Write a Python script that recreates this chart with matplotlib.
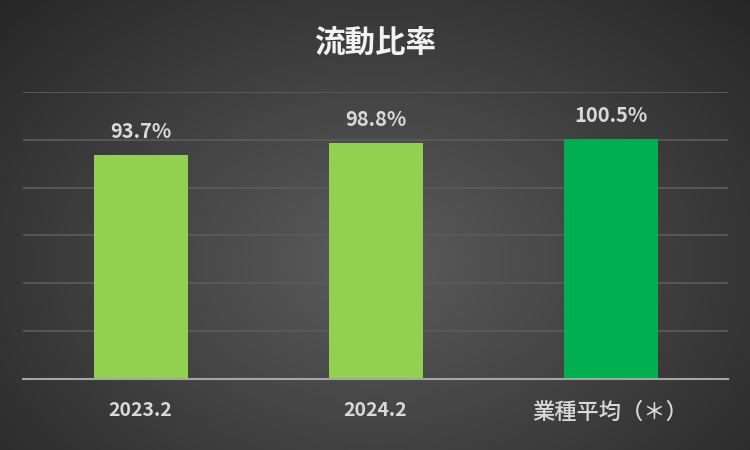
import numpy as np
import matplotlib.pyplot as plt

# データ
categories = ['2023.2', '2024.2', '業種平均（＊）']
values = [93.7, 98.8, 100.5]
bar_colors = ['#92D050', '#92D050', '#00B050']
title = '流動比率'

plt.rcParams['font.family'] = ['Noto Sans CJK JP', 'DejaVu Sans']

fig = plt.figure(figsize=(7.5, 4.5), dpi=100)

# 背景のラジアルグラデーション
bg = fig.add_axes([0, 0, 1, 1], zorder=0)
yy, xx = np.mgrid[0:450, 0:750]
r = np.sqrt(((xx - 375) / 520.0) ** 2 + ((yy - 260) / 380.0) ** 2)
r = np.clip(r, 0, 1)
shade = 0.36 - 0.21 * r
img = np.dstack([shade, shade, shade])
bg.imshow(img, aspect='auto', extent=[0, 1, 0, 1])
bg.axis('off')

ax = fig.add_axes([0.0307, 0.158, 0.94, 0.6378], zorder=1)
ax.patch.set_alpha(0)

x = np.arange(len(categories))
bars = ax.bar(x, values, width=0.4, color=bar_colors, zorder=3)

ax.set_xlim(-0.5, 2.5)
ax.set_ylim(0, 120)
ax.set_yticks(np.arange(0, 121, 20))
ax.yaxis.grid(True, color='#5a5a5a', linewidth=1.3, zorder=0)
ax.set_yticklabels([])
ax.tick_params(axis='y', length=0)

for s in ['top', 'right', 'left']:
    ax.spines[s].set_visible(False)
ax.spines['bottom'].set_color('#a6a6a6')
ax.spines['bottom'].set_linewidth(1.5)
ax.spines['bottom'].set_zorder(4)

ax.set_xticks(x)
ax.set_xticklabels(categories, color='#d9d9d9')
ax.tick_params(axis='x', length=0, pad=16)
for i, t in enumerate(ax.get_xticklabels()):
    if i < 2:
        t.set_fontsize(14)
        t.set_fontweight('bold')
    else:
        t.set_fontsize(16)
        t.set_fontweight('medium')

for b, v in zip(bars, values):
    ax.annotate(f'{v:.1f}%', (b.get_x() + b.get_width() / 2, v),
                xytext=(0, 9), textcoords='offset points',
                ha='center', va='bottom', fontsize=14.5,
                fontweight='bold', color='#d9d9d9')

fig.text(0.5, 0.903, title, ha='center', va='center', fontsize=22,
         fontweight='bold', color='#f2f2f2')

fig.savefig('out.png', dpi=100)
